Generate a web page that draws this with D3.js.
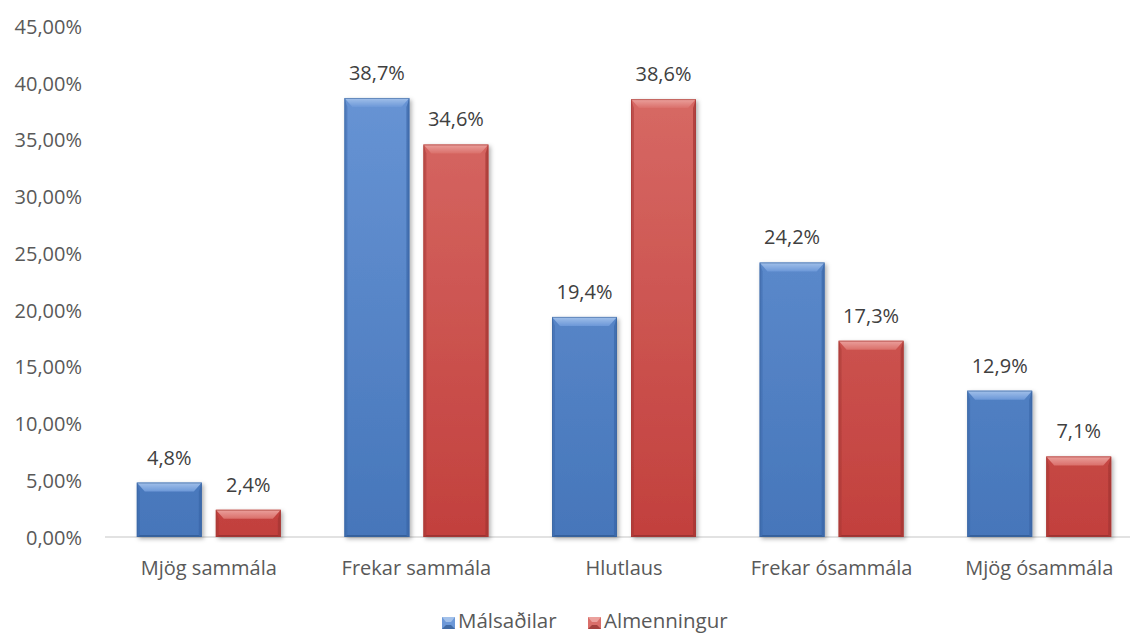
<!DOCTYPE html>
<html>
<head>
<meta charset="utf-8">
<script src="https://cdn.jsdelivr.net/npm/d3@7"></script>
<style>
  body { margin: 0; background: #fff; }
  svg { display: block; font-family: "Open Sans", "Noto Sans", sans-serif; }
</style>
</head>
<body>
<svg id="chart" width="1130" height="633"></svg>
<script>
const categories = ["Mjög sammála", "Frekar sammála", "Hlutlaus", "Frekar ósammála", "Mjög ósammála"];
const seriesNames = ["Málsaðilar", "Almenningur"];
const malsadilar = [4.8, 38.7, 19.4, 24.2, 12.9];
const almenningur = [2.4, 34.6, 38.6, 17.3, 7.1];
const yTicks = [0, 5, 10, 15, 20, 25, 30, 35, 40, 45];

const palette = {
    "Málsaðilar": { light: "#6C98D8", dark: "#4676BA", top: "#A3C1EA", side: "#3A67A8", bottom: "#2F5890", edge: "#3B659F" },
    "Almenningur": { light: "#DA6F6A", dark: "#C2403D", top: "#EBA19D", side: "#A23532", bottom: "#8E2E2C", edge: "#A63A37" }
};

const svg = d3.select("#chart");
const margin = { left: 105, top: 26.5, bottom: 537 };
const plotRight = 105 + 5 * 207.6;

const locale = d3.formatLocale({ decimal: ",", thousands: ".", grouping: [3], currency: ["", " kr."] });
const fmtTick = d => locale.format(".2f")(d) + "%";
const fmtVal = d => locale.format(".1f")(d) + "%";

const x = d3.scaleBand().domain(categories).range([margin.left, plotRight]);
const xs = d3.scaleBand().domain(seriesNames).range([0, x.bandwidth()])
    .paddingInner(14 / 79).paddingOuter(0.4025);
const y = d3.scaleLinear().domain([0, 45]).range([margin.bottom, margin.top]);

const defs = svg.append("defs");
seriesNames.forEach((s, i) => {
    const g = defs.append("linearGradient")
        .attr("id", "grad" + i)
        .attr("gradientUnits", "userSpaceOnUse")
        .attr("x1", 0).attr("x2", 0)
        .attr("y1", y(45)).attr("y2", y(0));
    g.append("stop").attr("offset", "0%").attr("stop-color", palette[s].light);
    g.append("stop").attr("offset", "100%").attr("stop-color", palette[s].dark);

    const t = defs.append("linearGradient")
        .attr("id", "top" + i)
        .attr("x1", 0).attr("x2", 0).attr("y1", 0).attr("y2", 1);
    t.append("stop").attr("offset", "0%").attr("stop-color", palette[s].top);
    t.append("stop").attr("offset", "100%").attr("stop-color", palette[s].light);
});
const shadow = defs.append("filter").attr("id", "shadow")
    .attr("x", "-20%").attr("y", "-20%").attr("width", "140%").attr("height", "140%");
shadow.append("feDropShadow")
    .attr("dx", 2).attr("dy", 2).attr("stdDeviation", 2)
    .attr("flood-color", "#000").attr("flood-opacity", 0.3);

// baseline
svg.append("line")
    .attr("x1", margin.left).attr("x2", 1130)
    .attr("y1", y(0)).attr("y2", y(0))
    .attr("stroke", "#D9D9D9").attr("stroke-width", 1.5);

// y axis labels
const yAxis = svg.append("g")
    .attr("transform", "translate(82,0)")
    .call(d3.axisLeft(y).tickValues(yTicks).tickFormat(fmtTick).tickSize(0).tickPadding(0));
yAxis.select(".domain").remove();
yAxis.selectAll("text")
    .attr("font-size", 20)
    .attr("font-family", "\"Open Sans\", \"Noto Sans\", sans-serif")
    .attr("fill", "#595959")
    .attr("dy", "0.35em");

// category labels
svg.append("g").selectAll("text")
    .data(categories)
    .join("text")
    .attr("x", d => x(d) + x.bandwidth() / 2)
    .attr("y", 575)
    .attr("text-anchor", "middle")
    .attr("font-size", 20)
    .attr("fill", "#595959")
    .text(d => d);

const rows = [];
categories.forEach((c, i) => {
    rows.push({ cat: c, series: seriesNames[0], idx: 0, value: malsadilar[i] });
    rows.push({ cat: c, series: seriesNames[1], idx: 1, value: almenningur[i] });
});

const bevel = (x0, x1, y0, y1) => {
    const t = Math.min(9, (y1 - y0) / 2), s = 8, w = 3, b = 2;
    return {
        top: `M${x0},${y0}L${x1},${y0}L${x1 - s},${y0 + t}L${x0 + s},${y0 + t}Z`,
        left: `M${x0},${y0}L${x0 + w},${y0 + t}L${x0 + w},${y1 - b}L${x0},${y1}Z`,
        right: `M${x1},${y0}L${x1 - w},${y0 + t}L${x1 - w},${y1 - b}L${x1},${y1}Z`,
        bottom: `M${x0},${y1}L${x0 + w},${y1 - b}L${x1 - w},${y1 - b}L${x1},${y1}Z`
    };
};

const bars = svg.append("g").selectAll("g")
    .data(rows)
    .join("g")
    .attr("filter", "url(#shadow)");

bars.each(function(d) {
    const g = d3.select(this);
    const x0 = x(d.cat) + xs(d.series), x1 = x0 + xs.bandwidth();
    const y0 = y(d.value), y1 = y(0);
    const p = bevel(x0, x1, y0, y1);
    const col = palette[d.series];
    g.append("rect")
        .attr("x", x0).attr("y", y0)
        .attr("width", x1 - x0).attr("height", y1 - y0)
        .attr("fill", `url(#grad${d.idx})`);
    g.append("path").attr("d", p.left).attr("fill", col.side).attr("opacity", 0.45);
    g.append("path").attr("d", p.right).attr("fill", col.side).attr("opacity", 0.7);
    g.append("path").attr("d", p.bottom).attr("fill", col.bottom).attr("opacity", 0.7);
    g.append("path").attr("d", p.top).attr("fill", `url(#top${d.idx})`);
    g.append("rect")
        .attr("x", x0 + 0.5).attr("y", y0 + 0.5)
        .attr("width", x1 - x0 - 1).attr("height", y1 - y0 - 1)
        .attr("fill", "none").attr("stroke", col.edge).attr("stroke-opacity", 0.6);
});

// value labels
svg.append("g").selectAll("text")
    .data(rows)
    .join("text")
    .attr("x", d => x(d.cat) + xs(d.series) + xs.bandwidth() / 2)
    .attr("y", d => y(d.value) - 18)
    .attr("text-anchor", "middle")
    .attr("font-size", 20)
    .attr("fill", "#404040")
    .text(d => fmtVal(d.value));

// legend
const legendX = [442, 588];
const legend = svg.append("g").selectAll("g")
    .data(seriesNames)
    .join("g")
    .attr("transform", (d, i) => `translate(${legendX[i]},617)`);
legend.append("rect")
    .attr("width", 13).attr("height", 12)
    .attr("fill", (d, i) => `url(#grad${i})`);
legend.each(function(d) {
    const g = d3.select(this);
    g.append("path").attr("d", "M0,0L13,0L9,5L4,5Z").attr("fill", palette[d].top);
    g.append("path").attr("d", "M0,12L4,8L9,8L13,12Z").attr("fill", palette[d].bottom).attr("opacity", 0.7);
});
legend.append("text")
    .attr("x", 16).attr("y", 11)
    .attr("font-size", 20.5)
    .attr("fill", "#595959")
    .text(d => d);
</script>
</body>
</html>
